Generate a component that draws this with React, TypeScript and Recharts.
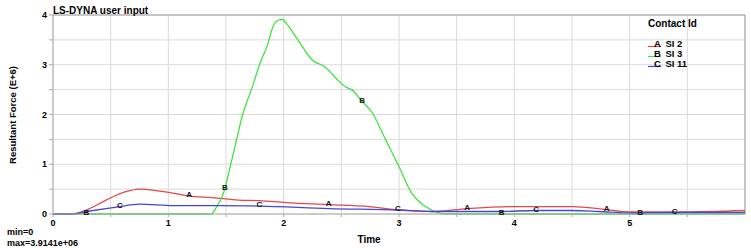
import React from 'react';
import { CartesianGrid, Line, LineChart, ReferenceLine, XAxis, YAxis } from 'recharts';

// SI 2 (A) — red
const timeA = [0, 0.16, 0.29, 0.46, 0.63, 0.75, 0.89, 1.04, 1.18, 1.38, 1.61, 1.79, 2.02, 2.39, 2.74, 2.97, 3.29, 3.59, 4.01, 4.5, 4.8, 5.02, 5.42, 6.0];
const forceA = [0, 0, 0.08, 0.28, 0.45, 0.5, 0.47, 0.42, 0.36, 0.33, 0.28, 0.27, 0.23, 0.19, 0.15, 0.09, 0.05, 0.11, 0.15, 0.15, 0.09, 0.04, 0.04, 0.07];
const marksA = [1.18, 2.39, 3.59, 4.8];

// SI 3 (B) — green
const timeB = [0, 0.29, 1.37, 1.42, 1.49, 1.53, 1.57, 1.64, 1.73, 1.8, 1.86, 1.9, 1.94, 1.99, 2.03, 2.12, 2.26, 2.35, 2.45, 2.54, 2.59, 2.68, 2.77, 2.87, 3.0, 3.11, 3.23, 3.31, 3.4, 3.89, 5.09, 6.0];
const forceB = [0, 0, 0, 0.15, 0.5, 0.89, 1.28, 1.96, 2.57, 3.06, 3.4, 3.72, 3.88, 3.91, 3.81, 3.51, 3.07, 2.97, 2.74, 2.55, 2.5, 2.26, 2.03, 1.56, 0.95, 0.42, 0.15, 0.05, 0, 0, 0, 0];
const marksB = [0.29, 1.49, 2.68, 3.89, 5.09];

// SI 11 (C) — blue
const timeC = [0, 0.16, 0.29, 0.46, 0.58, 0.75, 1.04, 1.44, 1.79, 2.39, 2.99, 3.29, 3.86, 4.19, 4.5, 4.73, 5.02, 5.39, 6.0];
const forceC = [0, 0, 0.05, 0.11, 0.15, 0.2, 0.17, 0.17, 0.16, 0.11, 0.08, 0.05, 0.05, 0.07, 0.07, 0.05, 0.02, 0.03, 0.03];
const marksC = [0.58, 1.79, 2.99, 4.19, 5.39];

const xTicks = [0, 0.5, 1, 1.5, 2, 2.5, 3, 3.5, 4, 4.5, 5, 5.5];
const yTicks = [0, 0.5, 1, 1.5, 2, 2.5, 3, 3.5, 4];

const series = [
  { id: 'A', name: 'SI 2', color: '#e24848', time: timeA, force: forceA, marks: marksA },
  { id: 'B', name: 'SI 3', color: '#3fe33f', time: timeB, force: forceB, marks: marksB },
  { id: 'C', name: 'SI 11', color: '#4646d6', time: timeC, force: forceC, marks: marksC },
];

const FONT = '"Liberation Sans", Arial, sans-serif';
const tickStyle = { fontSize: 9, fontWeight: 700, fill: '#000', fontFamily: FONT };

const intOnly = (v: number) => (Number.isInteger(v) ? String(v) : '');

function markDot(marks: number[], letter: string) {
  return (p: any) => {
    const key = `${letter}-${p.index}`;
    if (!marks.includes(p.payload.t)) return <g key={key} />;
    return (
      <text key={key} x={p.cx} y={p.cy + 1} textAnchor="middle" fontSize={8} fontWeight={700} fontFamily={FONT} fill="#111">
        {letter}
      </text>
    );
  };
}

export default function App() {
  return (
    <div style={{ position: 'fixed', left: 0, top: 0, width: 751, height: 248, background: '#fff' }}>
      <LineChart width={751} height={248} margin={{ top: 15, right: 6, bottom: 0, left: 0 }}>
        <CartesianGrid stroke="#dadada" />
        <XAxis
          type="number"
          dataKey="t"
          domain={[0, 6]}
          ticks={xTicks}
          tickFormatter={intOnly}
          tick={tickStyle}
          height={34}
          tickSize={3}
          tickMargin={3}
          axisLine={{ stroke: '#aaa' }}
          tickLine={{ stroke: '#aaa' }}
          allowDataOverflow
        />
        <YAxis
          type="number"
          domain={[0, 4]}
          ticks={yTicks}
          tickFormatter={intOnly}
          tick={tickStyle}
          width={53}
          tickSize={4}
          tickMargin={2}
          axisLine={{ stroke: '#aaa' }}
          tickLine={{ stroke: '#aaa' }}
        />
        <ReferenceLine y={4} stroke="#a0a0a0" />
        <ReferenceLine x={6} stroke="#a0a0a0" />
        {series.map((s) => (
          <Line
            key={s.id}
            data={s.time.map((t, i) => ({ t, v: s.force[i] }))}
            dataKey="v"
            type="monotone"
            stroke={s.color}
            strokeWidth={1.3}
            dot={markDot(s.marks, s.id)}
            activeDot={false}
            isAnimationActive={false}
          />
        ))}
      </LineChart>
      <svg width={751} height={248} style={{ position: 'absolute', left: 0, top: 0, pointerEvents: 'none' }} fontFamily={FONT} fontWeight={700}>
        <text x={53} y={13.5} fontSize={10}>LS-DYNA user input</text>
        <text x={12} y={115} fontSize={9.5} textAnchor="middle" dominantBaseline="central" transform="rotate(-90 12 115)">
          Resultant Force (E+6)
        </text>
        <text x={357.5} y={242.5} fontSize={10}>Time</text>
        <text x={7} y={234.5} fontSize={9}>min=0</text>
        <text x={7} y={245.5} fontSize={9}>max=3.9141e+06</text>
        <text x={648} y={26.5} fontSize={10}>Contact Id</text>
        {series.map((s, i) => (
          <g key={s.id}>
            <line x1={648} x2={661} y1={46.5 + i * 10} y2={46.5 + i * 10} stroke={s.color} strokeWidth={1.2} />
            <text x={654} y={46.5 + i * 10} fontSize={9.5}>{s.id}</text>
            <text x={665.5} y={46.5 + i * 10} fontSize={9.5}>{s.name}</text>
          </g>
        ))}
      </svg>
    </div>
  );
}
